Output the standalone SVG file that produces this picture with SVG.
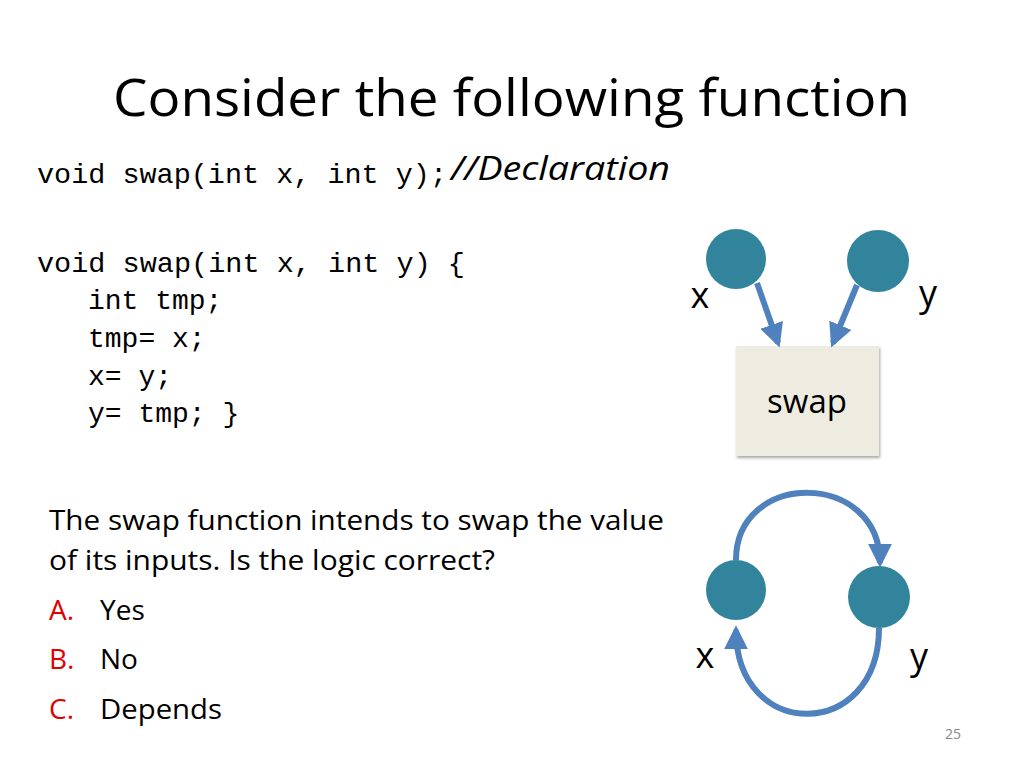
<svg xmlns="http://www.w3.org/2000/svg" width="1024" height="768" viewBox="0 0 1024 768">
<style>
.t{font-family:"Open Sans","Liberation Sans",sans-serif;fill:#000}
.m{font-family:"Liberation Mono","DejaVu Sans Mono",monospace;font-size:28px;fill:#000}
.c{fill:#31849b}
.a{fill:none;stroke:#4f81bd;stroke-width:6}
.r{fill:#e00000}
</style>
<defs>
<marker id="ah" viewBox="0 0 10 10" refX="8" refY="5" markerWidth="4" markerHeight="4" orient="auto" markerUnits="strokeWidth">
<path d="M0,0L10,5L0,10z" fill="#4f81bd"/>
</marker>
<filter id="sh"><feDropShadow dx="1" dy="2" stdDeviation="1.5" flood-opacity="0.35"/></filter>
</defs>
<rect width="1024" height="768" fill="#fff"/>
<text class="t" x="113" y="116" font-size="52" textLength="797" lengthAdjust="spacingAndGlyphs">Consider the following function</text>
<text class="m" x="37" y="183" textLength="410" lengthAdjust="spacingAndGlyphs">void swap(int x, int y);</text>
<text class="t" x="451" y="180" font-size="33" font-style="italic" textLength="219" lengthAdjust="spacingAndGlyphs">//Declaration</text>
<text class="m" x="37" y="272" textLength="428" lengthAdjust="spacingAndGlyphs">void swap(int x, int y) {</text>
<text class="m" x="88" y="309">int tmp;</text>
<text class="m" x="88" y="347">tmp= x;</text>
<text class="m" x="88" y="385">x= y;</text>
<text class="m" x="88" y="422">y= tmp;  }</text>
<text class="t" x="49" y="530" font-size="28" textLength="615" lengthAdjust="spacingAndGlyphs">The swap function intends to swap the value</text>
<text class="t" x="49" y="570" font-size="28" textLength="446" lengthAdjust="spacingAndGlyphs">of its inputs. Is the logic correct?</text>
<text class="t" x="49" y="620" font-size="28"><tspan class="r">A.</tspan><tspan x="100">Yes</tspan></text>
<text class="t" x="49" y="669" font-size="28"><tspan class="r">B.</tspan><tspan x="100">No</tspan></text>
<text class="t" x="49" y="719" font-size="28"><tspan class="r">C.</tspan><tspan x="100" textLength="122" lengthAdjust="spacingAndGlyphs">Depends</tspan></text>
<text class="t" x="953" y="739" font-size="14" text-anchor="middle" style="fill:#888">25</text>
<g id="swap"><rect x="736" y="346" width="143" height="110" fill="#eeece1" filter="url(#sh)"/>
<text class="t" x="807" y="413" font-size="33" text-anchor="middle">swap</text></g>
<g id="x1"><circle class="c" cx="736" cy="259" r="30"/><text class="t" x="700" y="308" font-size="36" text-anchor="middle">x</text></g>
<g id="y1"><circle class="c" cx="878" cy="261" r="31"/><text class="t" x="928" y="306" font-size="36" text-anchor="middle">y</text></g>
<g id="x2"><circle class="c" cx="736" cy="590" r="30"/><text class="t" x="705" y="668" font-size="36" text-anchor="middle">x</text></g>
<g id="y2"><circle class="c" cx="879" cy="597" r="31"/><text class="t" x="919" y="669" font-size="36" text-anchor="middle">y</text></g>
<g id="connectors">
<path class="a" d="M757,283L778,343" marker-end="url(#ah)"/>
<path class="a" d="M857,285L833,343" marker-end="url(#ah)"/>
<path class="a" d="M736,560C736,470 880,470 880,563" marker-end="url(#ah)"/>
<path class="a" d="M879,628C879,742 736,742 736,630" marker-end="url(#ah)"/>
</g>
</svg>
